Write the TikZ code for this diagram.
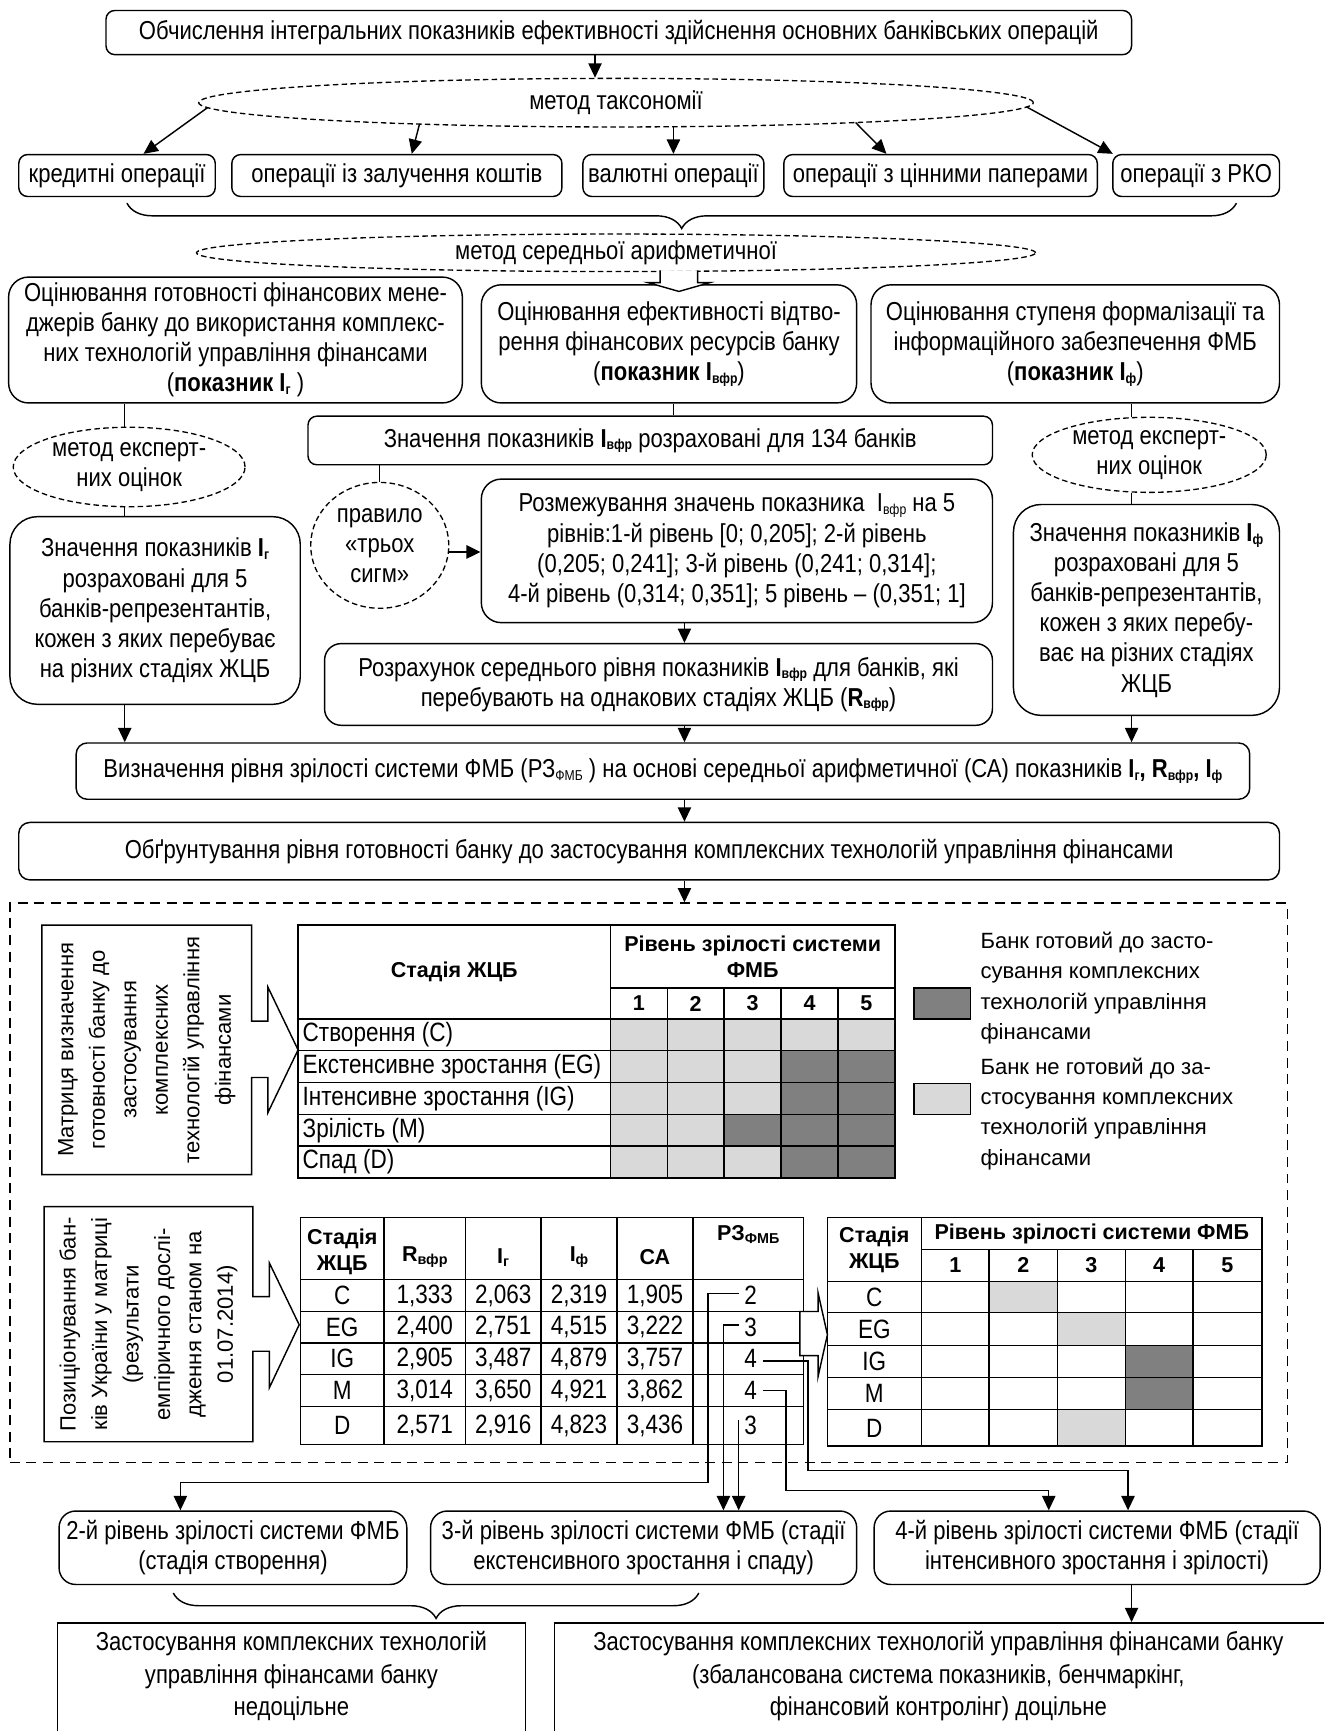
\documentclass[tikz,border=0pt]{standalone}
\usepackage{fontspec}
\setmainfont{Liberation Sans}[FakeStretch=0.85]
\newfontfamily\regf{Liberation Sans}
\usetikzlibrary{shapes.geometric,arrows.meta,decorations.pathreplacing,calc}
\newcommand{\lsb}[1]{\raisebox{-2.5pt}{\fontsize{13}{13}\selectfont #1}}
\newcommand{\fMain}{\fontsize{23.5}{27.3}\selectfont}
\newcommand{\fBot}{\fontsize{23.5}{29.5}\selectfont}
\newcommand{\fHead}{\regf\bfseries\fontsize{19.5}{23}\selectfont}
\newcommand{\fTab}{\fontsize{24}{28}\selectfont}
\newcommand{\fLeg}{\regf\fontsize{20}{27.5}\selectfont}
\newcommand{\fCal}{\regf\fontsize{20}{28.5}\selectfont}
\definecolor{lg}{HTML}{D9D9D9}
\definecolor{dg}{HTML}{808080}
\begin{document}
\begin{tikzpicture}[x=1pt,y=-1pt,
 box/.style={draw, line width=1.3pt, rounded corners=10pt, inner sep=0pt, align=center, font=\fMain},
 dell/.style={draw, ellipse, dash pattern=on 5pt off 3pt, line width=1.2pt, inner sep=0pt, align=center, font=\fMain},
 ln/.style={line width=1.3pt},
 arr/.style={line width=1.3pt, -{Triangle[length=13pt,width=12pt]}},
 brc/.style={decorate, decoration={brace, mirror, amplitude=23pt}, line width=1.3pt},
 hd/.style={inner sep=0pt, align=center, font=\fHead},
 tc/.style={inner sep=0pt, font=\fTab},
]
\useasboundingbox (0,0) rectangle (1199,1568);
\fill[white] (0,0) rectangle (1199,1568);

% ---------- top part ----------
\node[box, rounded corners=8pt, minimum width=929pt, minimum height=40pt] (top) at (560.5,29.5)
 {Обчислення інтегральних показників ефективності здійснення основних банківських операцій};
\node[dell, minimum width=756pt, minimum height=44pt] (tax) at (558,93) {метод таксономії};
\coordinate (ta) at ($(top.south)+(-21.5,0)$);
\draw[arr] (ta) -- (ta |- tax.north);

\node[box, rounded corners=8pt, minimum width=178pt, minimum height=38pt] (op1) at (106,159) {кредитні операції};
\node[box, rounded corners=8pt, minimum width=299pt, minimum height=38pt] (op2) at (359.5,159) {операції із залучення коштів};
\node[box, rounded corners=8pt, minimum width=164pt, minimum height=38pt] (op3) at (610,159) {валютні операції};
\node[box, rounded corners=8pt, minimum width=284pt, minimum height=38pt] (op4) at (852,159) {операції з цінними паперами};
\node[box, rounded corners=8pt, minimum width=151pt, minimum height=38pt] (op5) at (1083.5,159) {операції з РКО};

\draw[arr] ($(tax.center)+(-370,4.5)$) -- ($(op1.north)+(24,0)$);
\draw[arr] ($(tax.center)+(-178,19.4)$) -- ($(op2.north)+(13.5,0)$);
\draw[arr] ($(tax.center)+(52,21.8)$) -- (op3.north);
\draw[arr] ($(tax.center)+(217,18)$) -- ($(op4.north)+(-49,0)$);
\draw[arr] ($(tax.center)+(372,3.9)$) -- ($(op5.north)+(-75.5,0)$);

\draw[brc] (115,184) -- (1120,184);
\node[dell, minimum width=760pt, minimum height=34pt] (mean) at (558,229) {метод середньої арифметичної};

% ---------- second row ----------
\node[box, rounded corners=18pt, minimum width=411pt, minimum height=114pt] (L1) at (213.3,308)
 {Оцінювання готовності фінансових мене-\\джерів банку до використання комплекс-\\них технологій управління фінансами\\(\textbf{показник I\lsb{г}} )};
\node[box, rounded corners=18pt, minimum width=340pt, minimum height=107pt] (M1) at (606,311.5)
 {Оцінювання ефективності відтво-\\рення фінансових ресурсів банку\\(\textbf{показник I\lsb{вфр}})};
\node[box, rounded corners=18pt, minimum width=370pt, minimum height=107pt] (R1) at (974,311.5)
 {Оцінювання ступеня формалізації та\\інформаційного забезпечення ФМБ\\(\textbf{показник I\lsb{ф}})};
\draw[line width=1.3pt, fill=white] (598,245) -- (598,256) -- (587,256) -- (615,264) -- (643,256) -- (632,256) -- (632,245);

\coordinate (cl) at (113,0);
\coordinate (cm) at (620,0);
\coordinate (cm2) at (610,0);
\coordinate (cr) at (1025,0);

\node[dell, minimum width=210pt, minimum height=72pt] (EL) at (117,423) {метод експерт-\\них оцінок};
\node[box, rounded corners=8pt, minimum width=620pt, minimum height=44pt] (V134) at (589,399)
 {Значення показників \textbf{I\lsb{вфр}} розраховані для 134 банків};
\node[dell, minimum width=212pt, minimum height=68pt] (ER) at (1041,412) {метод експерт-\\них оцінок};
\node[dell, minimum width=125pt, minimum height=114pt] (sig) at (344,494) {правило\\«трьох\\сигм»};
\node[box, rounded corners=18pt, minimum width=463pt, minimum height=130pt] (Roz) at (667.5,499)
 {Розмежування значень показника~ I\lsb{вфр} на 5\\рівнів:1-й рівень [0; 0,205]; 2-й рівень\\(0,205; 0,241]; 3-й рівень (0,241; 0,314];\\4-й рівень (0,314; 0,351]; 5 рівень – (0,351; 1]};
\node[box, rounded corners=25pt, minimum width=263pt, minimum height=170pt] (LL) at (140.5,553)
 {Значення показників \textbf{I\lsb{г}}\\розраховані для 5\\банків-репрезентантів,\\кожен з яких перебуває\\на різних стадіях ЖЦБ};
\node[box, rounded corners=25pt, minimum width=241pt, minimum height=191pt] (RL) at (1038.5,552.5)
 {Значення показників \textbf{I\lsb{ф}}\\розраховані для 5\\банків-репрезентантів,\\кожен з яких перебу-\\ває на різних стадіях\\ЖЦБ};
\node[box, rounded corners=15pt, minimum width=605pt, minimum height=74pt] (Raz) at (596.5,620)
 {Розрахунок середнього рівня показників \textbf{I\lsb{вфр}} для банків, які\\перебувають на однакових стадіях ЖЦБ (\textbf{R\lsb{вфр}})};
\node[box, rounded corners=10pt, minimum width=1063pt, minimum height=51pt] (Def) at (600.5,698.5)
 {Визначення рівня зрілості системи ФМБ (РЗ\lsb{ФМБ} ) на основі середньої арифметичної (СА) показників \textbf{I\lsb{г}, R\lsb{вфр}, I\lsb{ф}}};
\node[box, rounded corners=10pt, minimum width=1142pt, minimum height=52pt] (Obg) at (588,771)
 {Обґрунтування рівня готовності банку до застосування комплексних технологій управління фінансами};

\draw[ln] (L1.south -| cl) -- (EL.north -| cl);
\draw[ln] (EL.south -| cl) -- (LL.north -| cl);
\draw[ln] (M1.south -| cm2) -- (V134.north -| cm2);
\draw[ln] (R1.south -| cr) -- (ER.north -| cr);
\draw[ln] (ER.south -| cr) -- (RL.north -| cr);
\draw[ln] (V134.south -| sig.north) -- (sig.north);
\coordinate (sa) at ($(sig.center)+(62.2,6)$);
\draw[arr, line width=2.2pt] (sa) -- (sa -| Roz.west);
\draw[arr] (Roz.south -| cm) -- (Raz.north -| cm);
\draw[arr] (LL.south -| cl) -- (Def.north -| cl);
\draw[arr] (Raz.south -| cm) -- (Def.north -| cm);
\draw[arr] (RL.south -| cr) -- (Def.north -| cr);
\draw[arr] (Def.south -| cm) -- (Obg.north -| cm);

% ---------- dashed region ----------
\node[draw, dash pattern=on 9pt off 6pt, line width=1.2pt, minimum width=1157pt, minimum height=507pt, inner sep=0pt] (reg) at (587.5,1071.5) {};
\draw[arr] (Obg.south -| cm) -- (reg.north -| cm);

% callout 1
\draw[line width=1.3pt, fill=white] (38,838) -- (228,838) -- (228,925) -- (242.6,925) -- (242.6,894) -- (270,951)
  -- (242.6,1008) -- (242.6,976) -- (228,976) -- (228,1064) -- (38,1064) -- cycle;
\node[rotate=90, align=center, font=\fCal, inner sep=0pt] (mtxt) at (133,951)
 {Матриця визначення\\готовності банку до\\застосування\\комплексних\\технологій управління\\фінансами};

% table 1
\fill[lg] (553,923) rectangle (810.6,951.8);
\fill[lg] (553,951.8) rectangle (707.6,1067);
\fill[dg] (656,1009.4) rectangle (707.6,1038.2);
\fill[dg] (707.6,951.8) rectangle (810.6,1067);
\draw[ln] (270,838) rectangle (810.6,1067);
\draw[ln] (553,838) -- (553,1067);
\draw[ln] (553,895) -- (810.6,895);
\draw[ln] (270,923) -- (810.6,923);
\foreach \yy in {951.8,980.6,1009.4,1038.2} {\draw[ln] (270,\yy) -- (810.6,\yy);}
\foreach \xx in {604.5,656,707.6,759.1} {\draw[ln] (\xx,895) -- (\xx,1067);}
\node[hd] (t1h) at (411.5,880.5) {Стадія ЖЦБ};
\node[hd] (t1r) at (681.8,866.5) {Рівень зрілості системи\\ФМБ};
\node[hd] (t1n1) at (578.7,909) {1};
\node[hd] (t1n2) at (630.2,909) {2};
\node[hd] (t1n3) at (681.8,909) {3};
\node[hd] (t1n4) at (733.3,909) {4};
\node[hd] (t1n5) at (784.8,909) {5};
\node[tc, anchor=west] (t1a) at (274,937.4) {Створення (С)};
\node[tc, anchor=west] (t1b) at (274,966.2) {Екстенсивне зростання (EG)};
\node[tc, anchor=west] (t1c) at (274,995) {Інтенсивне зростання (IG)};
\node[tc, anchor=west] (t1d) at (274,1023.8) {Зрілість (М)};
\node[tc, anchor=west] (t1e) at (274,1052.6) {Спад (D)};

% legend
\node[draw, line width=1.3pt, fill=dg, minimum width=51pt, minimum height=28pt, inner sep=0pt] (lgd) at (853.5,909) {};
\node[draw, line width=1.3pt, fill=lg, minimum width=51pt, minimum height=28pt, inner sep=0pt] (lgl) at (853.5,995.5) {};
\node[anchor=west, align=left, font=\fLeg, inner sep=0pt] (lgdt) at (888,895) {Банк готовий до засто-\\сування комплексних\\технологій управління\\фінансами};
\node[anchor=west, align=left, font=\fLeg, inner sep=0pt] (lglt) at (888,1009) {Банк не готовий до за-\\стосування комплексних\\технологій управління\\фінансами};

% callout 2
\draw[line width=1.3pt, fill=white] (40,1093) -- (229,1093) -- (229,1174.5) -- (244,1174.5) -- (244,1144) -- (271,1200)
  -- (244,1257) -- (244,1224) -- (229,1224) -- (229,1306) -- (40,1306) -- cycle;
\node[rotate=90, align=center, font=\fCal, inner sep=0pt] (ptxt) at (134.5,1199.5)
 {Позиціонування бан-\\ків України у матриці\\(результати\\емпіричного дослі-\\дження станом на\\01.07.2014)};

% table 2
\draw[ln] (272,1103) rectangle (728,1308.6);
\foreach \xx in {348,421.6,490,559,627.6} {\draw[ln] (\xx,1103) -- (\xx,1308.6);}
\foreach \yy in {1159,1188,1216.6,1245,1274} {\draw[ln] (272,\yy) -- (728,\yy);}
\node[hd] (t2h1) at (310,1134) {Стадія\\ЖЦБ};
\node[hd] (t2h2) at (384.8,1139) {R\lsb{вфр}};
\node[hd] (t2h3) at (455.8,1139) {I\lsb{г}};
\node[hd] (t2h4) at (524.5,1139) {I\lsb{ф}};
\node[hd] (t2h5) at (593.3,1139) {СА};
\node[hd] (t2h6) at (677.8,1118) {РЗ\lsb{ФМБ}};

\node[tc] (t2s1) at (310,1173.5) {С};
\node[tc] (t2a1) at (384.8,1173.5) {1,333};
\node[tc] (t2b1) at (455.8,1173.5) {2,063};
\node[tc] (t2c1) at (524.5,1173.5) {2,319};
\node[tc] (t2d1) at (593.3,1173.5) {1,905};

\node[tc] (t2s2) at (310,1202.3) {EG};
\node[tc] (t2a2) at (384.8,1202.3) {2,400};
\node[tc] (t2b2) at (455.8,1202.3) {2,751};
\node[tc] (t2c2) at (524.5,1202.3) {4,515};
\node[tc] (t2d2) at (593.3,1202.3) {3,222};

\node[tc] (t2s3) at (310,1230.8) {IG};
\node[tc] (t2a3) at (384.8,1230.8) {2,905};
\node[tc] (t2b3) at (455.8,1230.8) {3,487};
\node[tc] (t2c3) at (524.5,1230.8) {4,879};
\node[tc] (t2d3) at (593.3,1230.8) {3,757};

\node[tc] (t2s4) at (310,1259.5) {M};
\node[tc] (t2a4) at (384.8,1259.5) {3,014};
\node[tc] (t2b4) at (455.8,1259.5) {3,650};
\node[tc] (t2c4) at (524.5,1259.5) {4,921};
\node[tc] (t2d4) at (593.3,1259.5) {3,862};

\node[tc] (t2s5) at (310,1291.3) {D};
\node[tc] (t2a5) at (384.8,1291.3) {2,571};
\node[tc] (t2b5) at (455.8,1291.3) {2,916};
\node[tc] (t2c5) at (524.5,1291.3) {4,823};
\node[tc] (t2d5) at (593.3,1291.3) {3,436};

\node[tc] (n1) at (680,1173.5) {2};
\node[tc] (n2) at (680,1202.3) {3};
\node[tc] (n3) at (680,1230.8) {4};
\node[tc] (n4) at (680,1259.5) {4};
\node[tc] (n5) at (680,1291.3) {3};

% hollow arrow between tables
\draw[line width=1.3pt, fill=white] (724.5,1188) -- (741,1188) -- (741,1171) -- (749.5,1209) -- (741,1247) -- (741,1228) -- (724.5,1228) -- cycle;

% table 3
\fill[lg] (896,1160.7) rectangle (958,1189);
\fill[lg] (958,1189) rectangle (1019.3,1218.7);
\fill[dg] (1019.3,1218.7) rectangle (1080.6,1277);
\fill[lg] (958,1277) rectangle (1019.3,1310);
\draw[ln] (749.5,1103) rectangle (1143,1310);
\draw[ln] (834.7,1103) -- (834.7,1310);
\draw[ln] (834.7,1132) -- (1143,1132);
\foreach \xx in {896,958,1019.3,1080.6} {\draw[ln] (\xx,1132) -- (\xx,1310);}
\foreach \yy in {1160.7,1189,1218.7,1248,1277} {\draw[ln] (749.5,\yy) -- (1143,\yy);}
\node[hd] (t3h) at (792,1132) {Стадія\\ЖЦБ};
\node[hd] (t3r) at (989,1117.5) {Рівень зрілості системи ФМБ};
\node[hd] (t3n1) at (865.3,1146.3) {1};
\node[hd] (t3n2) at (927,1146.3) {2};
\node[hd] (t3n3) at (988.6,1146.3) {3};
\node[hd] (t3n4) at (1050,1146.3) {4};
\node[hd] (t3n5) at (1111.8,1146.3) {5};
\node[tc] (t3s1) at (792,1174.8) {С};
\node[tc] (t3s2) at (792,1203.8) {EG};
\node[tc] (t3s3) at (792,1233.3) {IG};
\node[tc] (t3s4) at (792,1262.5) {M};
\node[tc] (t3s5) at (792,1293.5) {D};

% ---------- bottom ----------
\node[box, rounded corners=15pt, minimum width=315pt, minimum height=66.5pt] (B2) at (211,1402)
 {2-й рівень зрілості системи ФМБ\\(стадія створення)};
\node[box, rounded corners=15pt, minimum width=386pt, minimum height=66.5pt] (B3) at (583,1402)
 {3-й рівень зрілості системи ФМБ (стадії\\екстенсивного зростання і спаду)};
\node[box, rounded corners=15pt, minimum width=404pt, minimum height=66.5pt] (B4) at (993.8,1402)
 {4-й рівень зрілості системи ФМБ (стадії\\інтенсивного зростання і зрілості)};

\coordinate (c1a) at (641.5,1343);
\coordinate (c3a) at (732,1332);
\coordinate (c4a) at (712,1350);
\coordinate (c5a) at ($(n5.west)+(-5,-5)$);
\draw[arr] ($(n1.west)+(-5,-2)$) -| (c1a) -| ($(B2.north)+(-47.6,0)$);
\draw[arr] ($(n2.west)+(-5,-2)$) -| ($(B3.north)+(72.3,0)$);
\draw[arr] (c5a) -- (c5a |- B3.north);
\draw[arr] ($(n3.east)+(5,2)$) -| (c3a) -| ($(B4.north)+(28,0)$);
\draw[arr] ($(n4.east)+(5,0)$) -| (c4a) -| ($(B4.north)+(-43.8,0)$);

\draw[brc] (157,1443) -- (633,1443);
\node[draw, line width=1.3pt, minimum width=424pt, minimum height=130pt, inner sep=0pt] (Nbox) at (264,1535) {};
\node[align=center, font=\fBot, inner sep=0pt] (Ntxt) at (264,1518.5)
 {Застосування комплексних технологій\\управління фінансами банку\\недоцільне};
\node[draw, line width=1.3pt, minimum width=715pt, minimum height=130pt, inner sep=0pt] (Dbox) at (860,1535) {};
\node[align=center, font=\fBot, inner sep=0pt] (Dtxt) at (850,1518.5)
 {Застосування комплексних технологій управління фінансами банку\\(збалансована система показників, бенчмаркінг,\\фінансовий контролінг) доцільне};
\draw[arr] (B4.south -| cr) -- (Dbox.north -| cr);
\end{tikzpicture}
\end{document}
